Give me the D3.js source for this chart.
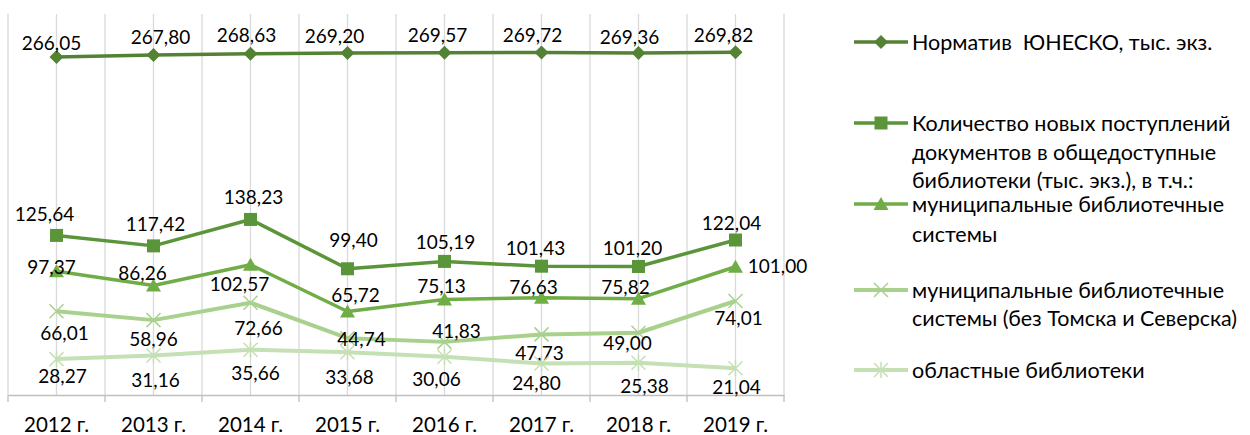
<!DOCTYPE html>
<html>
<head>
<meta charset="utf-8">
<script src="https://cdn.jsdelivr.net/npm/d3@7"></script>
<style>
  body { margin: 0; background: #fff; }
  text { font-family: Lato, "Open Sans", sans-serif; fill: #000; }
</style>
</head>
<body>
<svg id="chart" width="1250" height="435"></svg>
<script>
const years = ["2012 г.", "2013 г.", "2014 г.", "2015 г.", "2016 г.", "2017 г.", "2018 г.", "2019 г."];
const unesco = [266.05, 267.80, 268.63, 269.20, 269.57, 269.72, 269.36, 269.82];
const totalNew = [125.64, 117.42, 138.23, 99.40, 105.19, 101.43, 101.20, 122.04];
const municipal = [97.37, 86.26, 102.57, 65.72, 75.13, 76.63, 75.82, 101.00];
const municipalExcl = [66.01, 58.96, 72.66, 44.74, 41.83, 47.73, 49.00, 74.01];
const regional = [28.27, 31.16, 35.66, 33.68, 30.06, 24.80, 25.38, 21.04];

// label nudges (px from the point), like hand-placed Excel data labels
const labelNudge = [
  [[-5,-14],[7,-18],[-4,-18],[-13,-17],[-7,-17],[-9,-17],[-9,-16],[-12,-17]],
  [[-12,-21],[2,-22],[3,-22],[6,-28],[1,-19],[-6,-18],[-6,-18],[-4,-17]],
  [[-5,-4],[-11,-12],[-11,20],[8,-16],[-3,-13],[-8,-10],[-13,-11],[42,0]],
  [[8,22],[0,19],[8,26],[14,1],[12,-11],[-2,19],[-11,11],[3,17]],
  [[6,17],[2,25],[5,24],[2,25],[-8,23],[-5,20],[6,24],[1,19]]
];

const series = [
  { values: unesco, color: "#548235", width: 3.5, marker: "diamond",
    legend: ["Норматив  ЮНЕСКО, тыс. экз."] },
  { values: totalNew, color: "#5b9539", width: 3.5, marker: "square",
    legend: ["Количество новых поступлений", "документов в общедоступные", "библиотеки (тыс. экз.), в т.ч.:"] },
  { values: municipal, color: "#70ad47", width: 3.5, marker: "triangle",
    legend: ["муниципальные библиотечные", "системы"] },
  { values: municipalExcl, color: "#a9d18e", width: 4, marker: "x",
    legend: ["муниципальные библиотечные", "системы (без Томска и Северска)"] },
  { values: regional, color: "#c5e0b4", width: 4, marker: "star",
    legend: ["областные библиотеки"] }
];

const svg = d3.select("#chart");
const plot = { left: 8, right: 784, top: 14, bottom: 395 };

const x = d3.scaleBand().domain(years).range([plot.left, plot.right]);
const y = d3.scaleLinear().domain([0, 300]).range([plot.bottom, plot.top]);
const fmt = v => d3.format(".2f")(v).replace(".", ",");

// vertical gridlines at every half category
const half = x.bandwidth() / 2;
const gridX = d3.range(years.length * 2 + 1).map(i => plot.left + i * half);
svg.append("g").selectAll("line")
  .data(gridX).enter().append("line")
  .attr("x1", d => d).attr("x2", d => d)
  .attr("y1", plot.top).attr("y2", plot.bottom)
  .attr("stroke", "#d9d9d9").attr("stroke-width", 1.3);

// category axis
const xAxis = svg.append("g")
  .attr("transform", `translate(0,${plot.bottom})`)
  .call(d3.axisBottom(x).tickSize(0).tickPadding(22));
xAxis.select(".domain").attr("stroke", "#bfbfbf").attr("stroke-width", 1.3);
xAxis.selectAll("text").style("font-size", "20.5px").style("font-family", "Lato, sans-serif");
svg.append("g").selectAll("line")
  .data(d3.range(years.length + 1).map(i => plot.left + i * x.bandwidth()))
  .enter().append("line")
  .attr("x1", d => d).attr("x2", d => d)
  .attr("y1", plot.bottom).attr("y2", plot.bottom + 7)
  .attr("stroke", "#bfbfbf").attr("stroke-width", 1.3);

function drawMarker(g, type, color) {
  if (type === "diamond") {
    g.append("path").attr("d", "M0,-7L7,0L0,7L-7,0Z").attr("fill", color);
  } else if (type === "square") {
    g.append("rect").attr("x", -6.5).attr("y", -6.5).attr("width", 13).attr("height", 13).attr("fill", color);
  } else if (type === "triangle") {
    g.append("path").attr("d", "M0,-7L7.5,6L-7.5,6Z").attr("fill", color);
  } else if (type === "x") {
    g.append("path").attr("d", "M-7,-7L7,7M-7,7L7,-7").attr("stroke", color).attr("stroke-width", 1.5);
  } else if (type === "star") {
    g.append("path").attr("d", "M-7,-7L7,7M-7,7L7,-7M0,-8L0,8").attr("stroke", color).attr("stroke-width", 1.5);
  }
}

const line = d3.line()
  .x((d, i) => x(years[i]) + half)
  .y(d => y(d));

series.forEach((s, si) => {
  const g = svg.append("g");
  g.append("path")
    .attr("d", line(s.values))
    .attr("fill", "none")
    .attr("stroke", s.color)
    .attr("stroke-width", s.width)
    .attr("stroke-linejoin", "round");
  s.values.forEach((v, i) => {
    const m = g.append("g").attr("transform", `translate(${x(years[i]) + half},${y(v)})`);
    drawMarker(m, s.marker, s.color);
  });
  g.selectAll("text.lbl")
    .data(s.values).enter().append("text")
    .attr("class", "lbl")
    .attr("x", (d, i) => x(years[i]) + half + labelNudge[si][i][0])
    .attr("y", (d, i) => y(d) + labelNudge[si][i][1])
    .attr("dy", "0.35em")
    .attr("text-anchor", "middle")
    .style("font-size", "19px")
    .text(fmt);
});

// legend
const legendRows = [[42], [123, 152, 180], [204, 234], [290, 318], [370]];
series.forEach((s, si) => {
  const rows = legendRows[si];
  const g = svg.append("g");
  g.append("line")
    .attr("x1", 854).attr("x2", 908)
    .attr("y1", rows[0]).attr("y2", rows[0])
    .attr("stroke", s.color).attr("stroke-width", s.width);
  const m = g.append("g").attr("transform", `translate(881,${rows[0]})`);
  drawMarker(m, s.marker, s.color);
  s.legend.forEach((t, k) => {
    g.append("text")
      .attr("x", 912).attr("y", rows[k]).attr("dy", "0.35em")
      .style("font-size", "21.5px")
      .style("white-space", "pre")
      .text(t);
  });
});
</script>
</body>
</html>
